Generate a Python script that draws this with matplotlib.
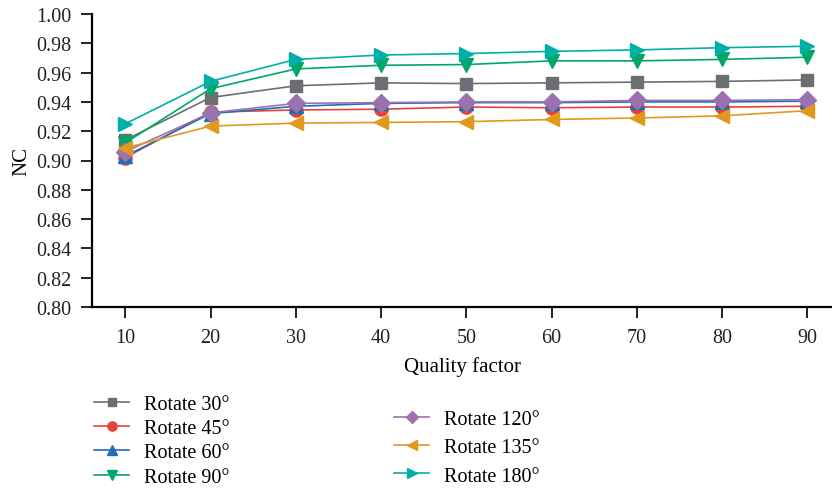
import matplotlib
matplotlib.use('Agg')
import matplotlib.pyplot as plt
import numpy as np

plt.rcParams['font.family'] = ['Liberation Serif', 'DejaVu Serif']

quality = [10, 20, 30, 40, 50, 60, 70, 80, 90]
rot30 = [0.914, 0.943, 0.951, 0.953, 0.9525, 0.953, 0.9535, 0.954, 0.955]
rot45 = [0.902, 0.933, 0.9345, 0.935, 0.9365, 0.936, 0.9365, 0.9365, 0.937]
rot60 = [0.903, 0.932, 0.937, 0.939, 0.9395, 0.9395, 0.940, 0.940, 0.9405]
rot90 = [0.912, 0.949, 0.9625, 0.965, 0.9655, 0.968, 0.968, 0.969, 0.9705]
rot120 = [0.906, 0.9325, 0.939, 0.9395, 0.940, 0.940, 0.941, 0.941, 0.9415]
rot135 = [0.9085, 0.9235, 0.9255, 0.926, 0.9265, 0.928, 0.929, 0.9305, 0.934]
rot180 = [0.925, 0.954, 0.969, 0.972, 0.973, 0.9745, 0.9755, 0.977, 0.978]

labels = ['Rotate 30°', 'Rotate 45°', 'Rotate 60°', 'Rotate 90°',
          'Rotate 120°', 'Rotate 135°', 'Rotate 180°']
series = [rot30, rot45, rot60, rot90, rot120, rot135, rot180]
colors = ['#6d6e71', '#e8413b', '#1f6fb4', '#00a76a', '#9b72b0', '#e0991c', '#00b0a8']
markers = ['s', 'o', '^', 'v', 'D', '<', '>']
msizes = [8.5, 9.5, 9.5, 10.5, 9, 10.5, 10.5]

fig = plt.figure(figsize=(8.32, 4.89), dpi=100)
ax = fig.add_axes([92/832, 1 - 308/489, 1 - 92/832, 293/489])

handles = []
for s, lab, c, m, ms in zip(series, labels, colors, markers, msizes):
    h, = ax.plot(quality, s, color=c, marker=m, markersize=ms, linewidth=1.2,
                 label=lab, clip_on=False)
    handles.append(h)

ax.set_xlim(6.1, 92.9)
ax.set_ylim(0.80, 1.00)
ax.set_xticks(quality)
ax.set_yticks(np.arange(0.80, 1.001, 0.02))
ax.set_yticklabels(['%.2f' % v for v in np.arange(0.80, 1.001, 0.02)])
ax.spines['top'].set_visible(False)
ax.spines['right'].set_visible(False)
ax.spines['left'].set_linewidth(1.6)
ax.spines['bottom'].set_linewidth(1.6)
ax.tick_params(direction='out', length=8, width=1.4, labelsize=14.5,
               colors='#222222', pad=7)
ax.set_xlabel('Quality factor', fontsize=15, labelpad=7)
ax.set_ylabel('NC', fontsize=15, labelpad=3)

leg1 = fig.legend(handles[:4], labels[:4], loc='upper left',
                  bbox_to_anchor=(76/832, 1 - 378/489), frameon=False,
                  fontsize=14.5, labelspacing=0.25, handlelength=1.75,
                  handletextpad=0.75, markerscale=0.7)
leg2 = fig.legend(handles[4:], labels[4:], loc='upper left',
                  bbox_to_anchor=(376/832, 1 - 393/489), frameon=False,
                  fontsize=14.5, labelspacing=0.45, handlelength=1.75,
                  handletextpad=0.75, markerscale=0.7)

fig.savefig('out.png', dpi=100)
